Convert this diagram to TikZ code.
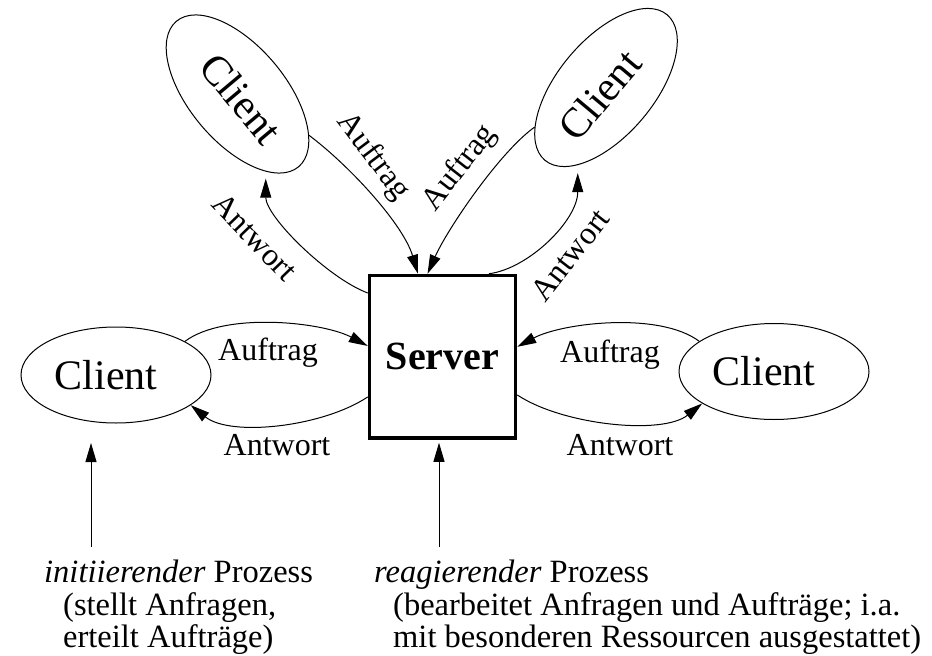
\documentclass[tikz,border=0pt]{standalone}
\usepackage{fontspec}
\setmainfont{Liberation Serif}
\usetikzlibrary{arrows.meta,shapes.geometric,calc}

\begin{document}
\begin{tikzpicture}[x=1pt,y=-1pt,
  client/.style={ellipse, draw, line width=1pt, minimum width=190pt,
    minimum height=96pt, inner sep=0pt, font=\fontsize{42}{42}\selectfont},
  nudge/.style={execute at begin node={\hspace*{#1}}},
  server/.style={draw, line width=3.5pt, minimum width=146pt,
    minimum height=162.5pt, inner sep=0pt,
    font=\fontsize{40}{40}\selectfont\bfseries},
  lbl/.style={font=\fontsize{32}{32}\selectfont, inner sep=0pt},
  note/.style={font=\fontsize{32.5}{32.5}\selectfont, inner sep=0pt, anchor=base west},
  flow/.style={line width=1pt, -{Triangle[length=19pt,width=11pt]}},
]
\useasboundingbox (0,0) rectangle (932,656);

% server and the four clients
\node[server] (srv) at (442.5,356.75) {Server};
\node[client, nudge=-20pt] (lc) at (116,375) {Client};
\node[client, nudge=-20pt] (rc) at (774,371.5) {Client};
\node[client, nudge=12pt, rotate=-50] (tlc) at (237.5,94) {Client};
\node[client, nudge=-20pt, rotate=50] (trc) at (606,87.5) {Client};

% docking points on the server border
\coordinate (sA) at ($(srv.north west)!0.116!(srv.south west)$);
\coordinate (sB) at ($(srv.north west)!0.435!(srv.south west)$);
\coordinate (sC) at ($(srv.north west)!0.742!(srv.south west)$);
\coordinate (sD) at ($(srv.north east)!0.44!(srv.south east)$);
\coordinate (sE) at ($(srv.north east)!0.73!(srv.south east)$);
\coordinate (sF) at ($(srv.north west)!0.336!(srv.north east)$);
\coordinate (sG) at ($(srv.north west)!0.40!(srv.north east)$);
\coordinate (sH) at ($(srv.north west)!0.81!(srv.north east)$);

% left client
\draw[flow] (lc.26) .. controls +(40,-30) and +(-45,-24) .. (sB);
\draw[flow] (sC) .. controls +(-45,30) and +(40,32) .. (lc.-22);
\node[lbl, anchor=base] (la) at (268,360) {Auftrag};
\node[lbl, anchor=base] (lw) at (277,455) {Antwort};

% right client
\draw[flow] (rc.158.5) .. controls +(-40,-30) and +(45,-24) .. (sD);
\draw[flow] (sE) .. controls +(45,30) and +(-40,32) .. (rc.-156.6);
\node[lbl, anchor=base] (ra) at (610,362) {Auftrag};
\node[lbl, anchor=base] (rw) at (620,455) {Antwort};

% upper left client
\draw[flow] (tlc.20) .. controls +(40,30) and +(-15,-50) .. (sF);
\draw[flow, shorten >=7pt] (sA) .. controls +(-40,-15) and +(0,45) .. (tlc.-20);
\node[lbl, rotate=-53] (tla) at (373,157) {Auftrag};
\node[lbl, rotate=-46] (tlw) at (255,237) {Antwort};

% upper right client
\draw[flow] (trc.159.7) .. controls +(-35,25) and +(20,-45) .. (sG);
\draw[flow, shorten >=8pt] (sH) .. controls +(40,-5) and +(0,55) .. (trc.200.6);
\node[lbl, rotate=52] (tra) at (460,168) {Auftrag};
\node[lbl, rotate=52] (trw) at (570,255) {Antwort};

% role annotations
\coordinate (lfoot) at (91,547);
\coordinate (rfoot) at (439,547);
\draw[flow, shorten >=19.5pt] (lfoot) -- (lfoot |- lc.south);
\draw[flow, shorten >=3pt] (rfoot) -- (rfoot |- srv.south);

\node[note] (lt1) at (44,582) {\textit{initiierender} Prozess};
\node[note] (lt2) at (63,615) {(stellt Anfragen,};
\node[note] (lt3) at (63,647) {erteilt Aufträge)};
\node[note] (rt1) at (374,582) {\textit{reagierender} Prozess};
\node[note] (rt2) at (393,615) {(bearbeitet Anfragen und Aufträge; i.a.};
\node[note] (rt3) at (393,647) {mit besonderen Ressourcen ausgestattet)};
\end{tikzpicture}
\end{document}
